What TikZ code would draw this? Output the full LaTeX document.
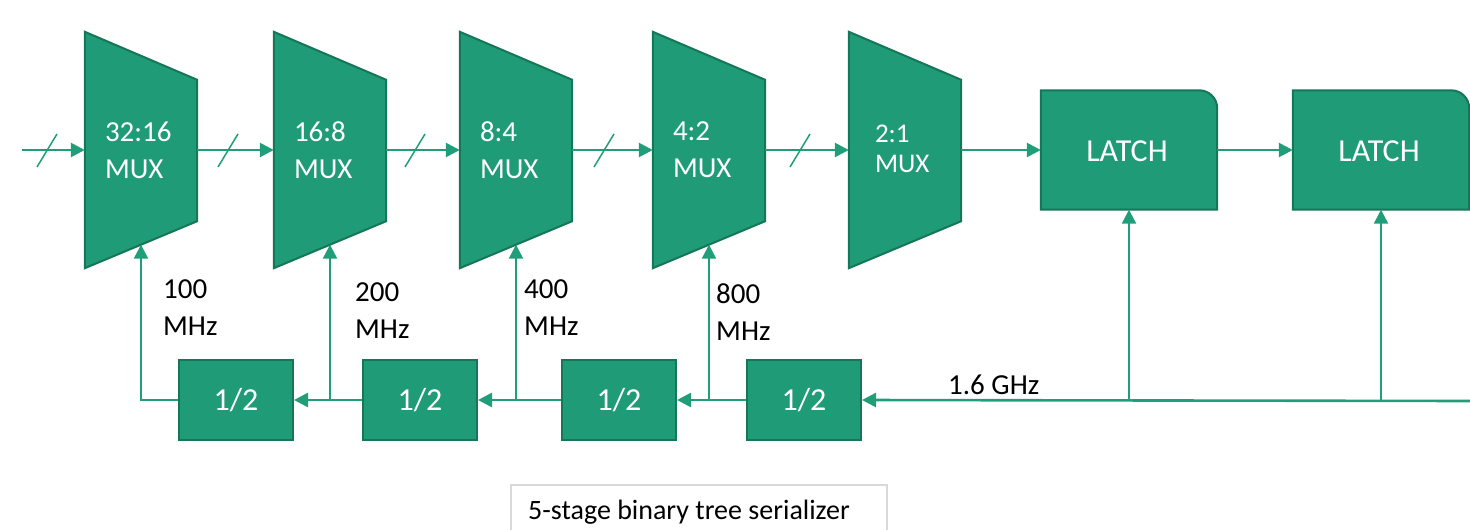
\documentclass[tikz,border=0pt]{standalone}
\usepackage{fontspec}
\setmainfont{Carlito}
\usetikzlibrary{arrows.meta,calc}
\definecolor{gfill}{RGB}{31,155,120}
\definecolor{gdraw}{RGB}{22,118,88}
\definecolor{gline}{RGB}{32,158,122}
\definecolor{capgray}{RGB}{217,217,217}
\tikzset{
  muxbb/.style={minimum width=112pt,minimum height=236pt,inner sep=0pt,draw=none},
  shapefill/.style={fill=gfill,draw=gdraw,line width=2pt,line join=miter},
  divbox/.style={fill=gfill,draw=gdraw,line width=2pt,minimum width=114pt,minimum height=80pt,inner sep=0pt,text=white,font=\fontsize{32}{34}\selectfont},
  latchbb/.style={minimum width=176pt,minimum height=119pt,inner sep=0pt,draw=none},
  muxtext/.style={anchor=west,inner sep=0pt,align=left,text=white,font=\fontsize{29}{37}\selectfont},
  arr/.style={draw=gline,line width=2.6pt,-{Triangle[length=14pt,width=14pt]}},
  clk/.style={draw=gline,line width=2.3pt,-{Triangle[length=14pt,width=14pt]}},
  slash/.style={draw=gline,line width=1.5pt},
  lbl/.style={anchor=west,inner sep=0pt,align=left,font=\fontsize{29}{37}\selectfont},
}
\newcommand{\muxshape}[1]{%
  \path[shapefill] (#1.north west) -- ([yshift=-48pt]#1.north east) -- ([yshift=47pt]#1.south east) -- (#1.south west) -- cycle;}
\begin{document}
\begin{tikzpicture}[x=1pt,y=-1pt]
\useasboundingbox (0,0) rectangle (1470,530);
% MUX bounding nodes
\node[muxbb] (m1) at (141,150) {};
\node[muxbb] (m2) at (330,150) {};
\node[muxbb] (m3) at (516,150) {};
\node[muxbb] (m4) at (709,150) {};
\node[muxbb] (m5) at (905,150) {};
\foreach \m in {m1,m2,m3,m4,m5} {\muxshape{\m}}
\node[muxtext] (t1) at ([xshift=20pt]m1.west) {32:16\\MUX};
\node[muxtext] (t2) at ([xshift=20pt]m2.west) {16:8\\MUX};
\node[muxtext] (t3) at ([xshift=20pt]m3.west) {8:4\\MUX};
\node[muxtext] (t4) at ([xshift=20pt]m4.west) {4:2\\MUX};
\node[muxtext,font=\fontsize{27}{30}\selectfont] (t5) at ([xshift=26pt,yshift=1.5pt]m5.west) {2:1\\MUX};
% latches
\node[latchbb] (l1) at (1129,150) {};
\node[latchbb] (l2) at (1381,150) {};
\foreach \l in {l1,l2} {
  \path[shapefill] (\l.south west) -- (\l.north west) [rounded corners=18pt] -- (\l.north east) [sharp corners] -- (\l.south east) -- cycle;}
\node[text=white,font=\fontsize{32}{34}\selectfont,inner sep=0pt] (lt1) at ([xshift=-2pt,yshift=-1pt]l1.center) {LATCH};
\node[text=white,font=\fontsize{32}{34}\selectfont,inner sep=0pt] (lt2) at ([xshift=-2pt,yshift=-1pt]l2.center) {LATCH};
% dividers
\node[divbox] (b1) at (236,400) {1/2};
\node[divbox] (b2) at (420,400) {1/2};
\node[divbox] (b3) at (619,400) {1/2};
\node[divbox] (b4) at (804,400) {1/2};
% clock tips on MUX bottoms
\coordinate (c1) at ([yshift=23.5pt]m1.south);
\coordinate (c2) at ([yshift=23.5pt]m2.south);
\coordinate (c3) at ([yshift=23.5pt]m3.south);
\coordinate (c4) at ([yshift=23.5pt]m4.south);
% data path
\coordinate (din) at (22,150);
\draw[arr] (din) -- (m1.west);
\draw[arr] (m1.east) -- (m2.west);
\draw[arr] (m2.east) -- (m3.west);
\draw[arr] (m3.east) -- (m4.west);
\draw[arr] (m4.east) -- (m5.west);
\draw[arr] (m5.east) -- (l1.west);
\draw[arr] (l1.east) -- (l2.west);
\foreach \x in {47,228,415,604,800} {\draw[slash] (\x-10,167) -- (\x+10,134);}
% clock path
\coordinate (clkin) at (1470,401);
\draw[arr] (clkin) -- (b4.east);
\draw[clk] (l1.south |- clkin) -- (l1.south);
\draw[clk] (l2.south |- clkin) -- (l2.south);
\draw[arr] (b4.west) -- (b3.east);
\draw[arr] (b3.west) -- (b2.east);
\draw[arr] (b2.west) -- (b1.east);
\draw[clk] (c4 |- b4.west) -- (c4);
\draw[clk] (c3 |- b3.west) -- (c3);
\draw[clk] (c2 |- b2.west) -- (c2);
\draw[clk] (b1.west) -| (c1);
% labels
\node[lbl] (f1) at (163,308) {100\\MHz};
\node[lbl] (f2) at (355,311) {200\\MHz};
\node[lbl] (f3) at (524,308) {400\\MHz};
\node[lbl] (f4) at (716,312) {800\\MHz};
\node[lbl] (f5) at (948,385) {1.6 GHz};
% caption
\node[draw=capgray,line width=1.5pt,minimum width=376pt,minimum height=60pt,anchor=north west,inner sep=0pt] (cap) at (510,484) {};
\node[anchor=west,inner sep=0pt,font=\fontsize{28}{30}\selectfont] (capt) at (528,512) {5-stage binary tree serializer};
\end{tikzpicture}
\end{document}
